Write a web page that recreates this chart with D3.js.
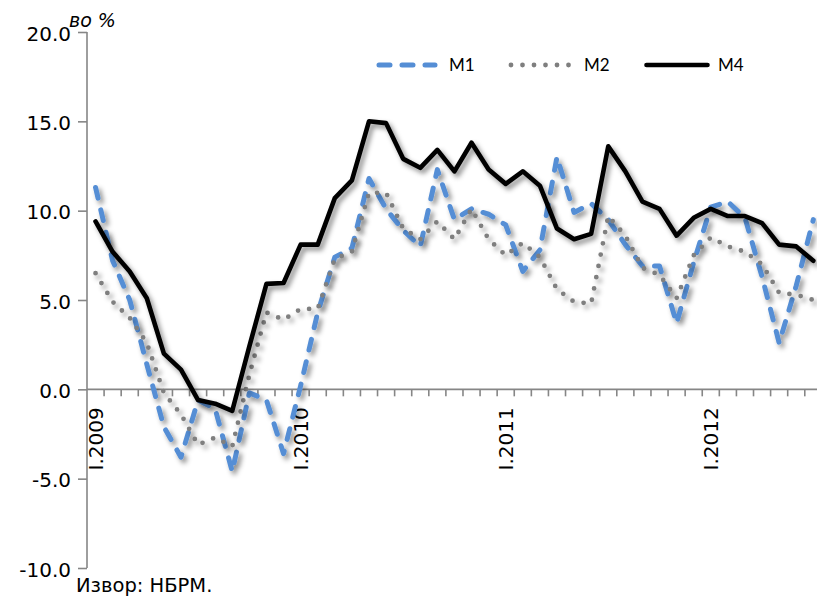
<!DOCTYPE html>
<html>
<head>
<meta charset="utf-8">
<script src="https://cdn.jsdelivr.net/npm/d3@7/dist/d3.min.js"></script>
<style>
  html, body { margin: 0; padding: 0; background: #fff; }
  svg { display: block; }
</style>
</head>
<body>
<svg id="chart" width="817" height="597"></svg>
<script>
// ---- data ----
const categories = [
  "I.2009","II.2009","III.2009","IV.2009","V.2009","VI.2009","VII.2009","VIII.2009","IX.2009","X.2009","XI.2009","XII.2009",
  "I.2010","II.2010","III.2010","IV.2010","V.2010","VI.2010","VII.2010","VIII.2010","IX.2010","X.2010","XI.2010","XII.2010",
  "I.2011","II.2011","III.2011","IV.2011","V.2011","VI.2011","VII.2011","VIII.2011","IX.2011","X.2011","XI.2011","XII.2011",
  "I.2012","II.2012","III.2012","IV.2012","V.2012","VI.2012","VII.2012"
];
const tickLabels = ["I.2009","I.2010","I.2011","I.2012"];
const yTicks = [-10, -5, 0, 5, 10, 15, 20];
const seriesNames = ["M1", "M2", "M4"];
const m1 = [11.3,7.2,5.0,1.4,-2.1,-3.8,-0.6,-1.1,-4.6,-0.2,-0.6,-3.6,
            0.2,4.3,7.4,7.9,11.8,10.1,8.9,8.0,12.3,9.5,10.1,9.8,
            9.2,6.6,7.8,13.0,9.9,10.4,9.5,8.1,6.9,6.9,3.7,7.1,
            10.2,10.5,9.6,6.3,2.6,5.8,9.5];
const m2 = [6.5,4.9,4.0,2.6,-0.2,-1.4,-3.1,-2.7,-3.2,0.8,4.3,3.9,
            4.5,4.5,7.3,7.7,11.0,11.0,9.0,8.4,9.4,8.4,10.1,8.4,
            7.5,8.2,7.4,5.6,4.9,4.8,9.7,8.6,6.8,6.4,5.1,7.5,
            8.5,8.0,7.7,7.0,5.4,5.3,5.0];
const m4 = [9.4,7.7,6.6,5.1,2.0,1.1,-0.6,-0.8,-1.2,2.4,5.9,5.95,
            8.1,8.1,10.7,11.7,15.0,14.9,12.9,12.4,13.4,12.2,13.8,12.3,
            11.5,12.2,11.4,9.0,8.4,8.7,13.6,12.2,10.5,10.1,8.6,9.6,
            10.1,9.7,9.7,9.3,8.1,8.0,7.2];
const unitLabel = "во %";
const sourceLabel = "Извор: НБРМ.";

// ---- layout ----
const svg = d3.select("#chart");
const axisColor = "#868686";
const tickFont = "'DejaVu Sans', Verdana, sans-serif";
const plotLeft = 87, plotTop = 32, plotBottom = 568;
const step = 17.09;

const x = d3.scaleBand().domain(categories)
  .range([plotLeft, plotLeft + step * categories.length]).padding(0);
const y = d3.scaleLinear().domain([-10, 20]).range([plotBottom, plotTop]);
const cx = c => x(c) + x.bandwidth() / 2;

// shadow filter
const defs = svg.append("defs");
const f = defs.append("filter").attr("id", "shadow")
  .attr("filterUnits", "userSpaceOnUse")
  .attr("x", 0).attr("y", 0).attr("width", 900).attr("height", 700);
f.append("feDropShadow").attr("dx", 3).attr("dy", 3.5).attr("stdDeviation", 2.5)
  .attr("flood-color", "#000").attr("flood-opacity", 0.45);

// y axis
const yAxisG = svg.append("g").attr("transform", `translate(${plotLeft},0)`)
  .call(d3.axisLeft(y).tickValues(yTicks).tickSize(9).tickPadding(7)
    .tickFormat(d => d.toFixed(1)));
yAxisG.select(".domain").attr("stroke", axisColor).attr("stroke-width", 1.6)
  .attr("d", `M0,${plotBottom}V${plotTop}`);
yAxisG.selectAll(".tick line").attr("stroke", axisColor).attr("stroke-width", 1.6);
yAxisG.selectAll(".tick text").attr("font-family", tickFont).attr("font-size", 20)
  .attr("fill", "#000").attr("dy", "0.4em");

// x axis at y=0
const y0 = y(0);
const xAxisG = svg.append("g");
xAxisG.append("line").attr("x1", plotLeft).attr("x2", 830)
  .attr("y1", y0).attr("y2", y0).attr("stroke", axisColor).attr("stroke-width", 1.6);
const bounds = categories.map(c => x(c)).concat([x(categories[categories.length - 1]) + x.bandwidth()]);
xAxisG.selectAll("line.xt").data(bounds.slice(1)).join("line").attr("class", "xt")
  .attr("x1", d => d).attr("x2", d => d)
  .attr("y1", y0).attr("y2", y0 + 7).attr("stroke", axisColor).attr("stroke-width", 1.6);
xAxisG.selectAll("text.xl").data(tickLabels).join("text").attr("class", "xl")
  .attr("transform", d => `translate(${cx(d)},${y0 + 18}) rotate(-90)`)
  .attr("text-anchor", "end").attr("dy", "0.36em")
  .attr("font-family", tickFont).attr("font-size", 20).attr("fill", "#000")
  .text(d => d);

// lines
const line = d3.line().x((d, i) => cx(categories[i])).y(d => y(d));
const styles = {
  M1: { data: m1, color: "#558ED5", width: 5, dash: "11,12" },
  M2: { data: m2, color: "#7F7F7F", width: 4.8, dash: "0,11.5" },
  M4: { data: m4, color: "#000000", width: 4.6, dash: null }
};
seriesNames.forEach(name => {
  const s = styles[name];
  svg.append("path").datum(s.data)
    .attr("d", line)
    .attr("fill", "none")
    .attr("stroke", s.color)
    .attr("stroke-width", s.width)
    .attr("stroke-linecap", "round")
    .attr("stroke-linejoin", "round")
    .attr("stroke-dasharray", s.dash)
    .attr("filter", "url(#shadow)");
});

// legend
const legendY = 65;
const legendItems = [
  { name: "M1", x1: 379, x2: 435, tx: 449 },
  { name: "M2", x1: 511, x2: 569, tx: 584 },
  { name: "M4", x1: 646.5, x2: 707.5, tx: 718 }
];
const lg = svg.append("g");
legendItems.forEach(it => {
  const s = styles[it.name];
  lg.append("line").attr("x1", it.x1).attr("x2", it.x2)
    .attr("y1", legendY).attr("y2", legendY)
    .attr("stroke", s.color).attr("stroke-width", s.width)
    .attr("stroke-linecap", "round").attr("stroke-dasharray", s.dash);
  lg.append("text").attr("x", it.tx).attr("y", legendY + 6)
    .attr("font-family", "Lato, 'Open Sans', sans-serif").attr("font-size", 17)
    .attr("fill", "#000").text(it.name);
});

// unit label
svg.append("text").attr("x", 69).attr("y", 27)
  .attr("font-family", tickFont).attr("font-style", "italic")
  .attr("font-size", 19).attr("fill", "#000").text(unitLabel);

// source
svg.append("text").attr("x", 76).attr("y", 592)
  .attr("font-family", tickFont).attr("font-size", 19.5)
  .attr("fill", "#000").text(sourceLabel);
</script>
</body>
</html>
